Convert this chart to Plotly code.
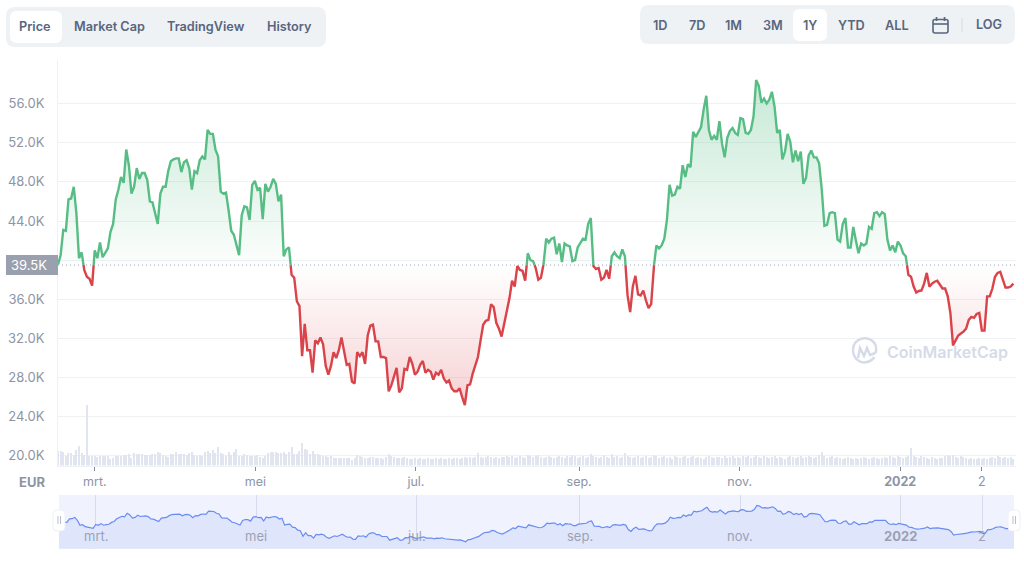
import plotly.graph_objects as go
import pandas as pd

prices_k = [
39.55,40.5,43.1,43.0,46.2,46.3,47.5,44.8,40.2,40.8,39.0,38.3,38.1,37.4,
41.0,40.2,41.8,40.3,40.8,41.2,42.9,43.7,46.2,47.2,48.5,47.9,51.3,49.7,46.8,47.5,49.4,48.3,48.9,48.9,
48.2,46.0,45.9,44.8,43.7,46.8,47.5,47.5,49.1,50.1,50.3,50.4,50.4,49.0,50.0,50.2,49.4,47.2,49.1,48.9,
50.2,50.6,50.3,53.3,52.9,52.9,51.3,50.6,47.0,46.8,46.9,45.1,43.0,42.6,41.4,40.5,44.6,45.5,45.4,44.1,
47.7,48.1,47.2,47.4,44.2,47.8,47.0,47.5,48.3,47.8,46.0,46.7,40.4,41.1,41.3,38.5,38.2,35.8,35.3,30.2,
33.5,30.8,30.8,28.5,31.8,31.5,32.1,31.4,29.2,28.3,29.2,30.6,30.0,30.8,
32.1,30.5,29.3,29.4,27.6,27.4,30.6,30.2,30.6,29.4,32.3,33.3,33.4,31.7,31.7,30.1,30.1,30.0,26.6,27.2,
28.2,29.0,26.5,26.9,28.9,28.8,30.1,29.4,28.3,28.6,29.3,29.7,28.5,28.8,28.6,27.8,28.5,28.3,28.8,27.9,
27.5,27.7,26.9,26.6,26.6,26.9,26.0,25.2,27.2,27.3,28.4,29.2,30.1,31.8,33.4,33.8,33.9,35.5,35.2,33.6,
33.0,32.2,33.5,34.6,36.1,37.9,37.3,39.4,39.0,38.9,37.9,40.7,40.0,39.9,39.2,38.0,38.2,39.6,42.2,41.8,
42.2,42.3,40.6,41.7,39.8,41.7,41.5,41.4,39.9,40.0,41.3,41.7,42.2,42.1,43.7,44.3,39.4,39.1,39.2,38.0,
38.2,39.0,38.1,40.4,40.8,40.4,40.2,41.1,40.4,36.4,34.7,37.3,38.4,36.5,36.4,36.9,35.9,35.1,35.5,39.3,
41.5,41.2,41.5,42.2,44.1,47.7,46.6,46.7,47.5,47.3,49.7,48.5,49.8,49.5,53.1,52.6,53.1,53.6,55.4,56.8,
53.3,52.3,52.7,52.3,54.2,51.9,50.5,52.5,53.2,53.5,53.0,52.8,54.5,54.4,53.0,52.9,53.3,54.7,58.4,57.8,
56.1,56.5,56.0,56.4,57.2,55.7,53.0,53.3,50.3,51.1,52.9,52.1,50.0,51.2,50.1,51.1,47.8,48.4,50.7,51.2,
50.5,50.5,49.9,47.2,43.5,43.6,44.8,44.9,44.8,42.1,41.9,43.7,44.3,41.3,41.3,43.4,42.0,40.7,41.7,41.5,
41.7,43.4,43.2,44.8,44.9,44.5,44.9,44.7,42.1,41.0,41.5,40.8,41.9,41.5,40.7,40.4,38.5,38.3,37.3,36.7,
36.85,36.9,37.6,38.7,37.3,37.6,37.8,37.9,37.5,37.1,37.1,36.3,34.6,31.3,31.8,32.3,32.5,32.7,33.0,33.9,
34.2,34.1,34.5,34.6,32.8,32.8,36.3,36.3,37.1,38.3,38.7,38.8,38.0,37.2,37.2,37.3,37.6,
]

volumes_bn = [
70,70,65,45,60,60,50,75,95,60,
50,300,45,45,45,40,45,45,45,45,
30,35,45,45,45,50,50,55,35,60,
55,55,55,50,50,50,55,55,65,60,
50,45,40,55,55,65,55,55,55,50,
60,65,50,45,50,45,65,70,60,75,
60,90,60,55,45,65,50,65,80,45,
45,55,50,45,45,45,50,40,35,45,
60,65,65,65,60,60,65,55,65,90,
55,55,70,110,80,75,55,70,55,55,
50,45,45,40,45,35,35,35,35,35,
35,35,25,35,50,45,40,35,35,40,
40,35,35,35,30,40,55,45,40,35,
35,35,40,35,30,30,35,30,35,30,
30,35,30,30,35,30,35,30,30,35,
30,35,35,30,35,40,35,40,35,40,
60,40,35,40,45,40,35,40,35,40,
40,45,40,45,35,40,45,40,35,50,
45,40,45,50,40,35,40,45,40,35,
40,45,40,35,45,40,50,45,35,40,
45,35,40,55,45,40,35,40,50,40,
35,55,40,45,35,40,60,45,40,35,
40,45,35,40,45,35,40,50,45,35,
40,45,35,40,30,45,40,35,40,45,
35,40,45,35,40,35,30,40,45,40,
35,40,40,35,45,35,40,45,35,40,
35,45,40,45,35,40,50,40,35,45,
40,35,40,45,35,40,35,30,40,45,
40,35,40,45,35,40,45,40,35,40,
50,65,45,35,40,45,35,40,35,30,
35,40,35,30,35,30,35,40,35,30,
35,40,35,30,35,40,35,45,40,35,
45,40,35,40,45,85,45,40,35,45,
40,35,30,40,35,30,35,35,45,50,
45,50,40,35,45,40,35,30,35,30,
30,35,30,35,30,35,40,35,45,40,
35,40,35,40,30,
]

y_ticks = [20, 24, 28, 32, 36, 40, 44, 48, 52, 56]
y_labels = ["20.0K", "24.0K", "28.0K", "32.0K", "36.0K", "", "44.0K", "48.0K", "52.0K", "56.0K"]
x_ticks = ["2021-03-01", "2021-05-01", "2021-07-01", "2021-09-01", "2021-11-01", "2022-01-01", "2022-02-01"]
x_labels = ["mrt.", "mei", "jul.", "sep.", "nov.", "<b>2022</b>", "2"]
nav_labels = ["mrt.", "mei", "jul.", "sep.", "nov.", "<b>2022</b>", "2"]
base_k = 39.5
left_tabs = ["Price", "Market Cap", "TradingView", "History"]
range_tabs = ["1D", "7D", "1M", "3M", "1Y", "YTD", "ALL"]

W, H = 1024, 561
GREEN, RED = "#57bd84", "#d9434a"
TICK = "#8d94a6"
TAB = "#58667e"
GRID = "#eff2f5"

dates = pd.date_range("2021-02-15", "2022-02-13", periods=len(prices_k))
vol_dates = pd.date_range("2021-02-15", "2022-02-13", periods=len(volumes_bn))
ms = [d.value / 1e6 for d in dates]


def split_at_base(xs, ys, base):
    up_x, up_y, dn_x, dn_y, top, bot, all_x = [], [], [], [], [], [], []
    for i, (x, y) in enumerate(zip(xs, ys)):
        if i:
            x0, y0 = xs[i - 1], ys[i - 1]
            if (y0 - base) * (y - base) < 0:
                xc = x0 + (base - y0) / (y - y0) * (x - x0)
                for lst_x, lst_y in ((up_x, up_y), (dn_x, dn_y)):
                    lst_x.append(xc)
                    lst_y.append(base)
                if y < base:
                    up_x.append(None); up_y.append(None)
                else:
                    dn_x.append(None); dn_y.append(None)
                all_x.append(xc); top.append(base); bot.append(base)
        if y >= base:
            up_x.append(x); up_y.append(y)
        else:
            dn_x.append(x); dn_y.append(y)
        all_x.append(x); top.append(max(y, base)); bot.append(min(y, base))
    conv = lambda a: [None if v is None else pd.Timestamp(v, unit="ms") for v in a]
    return conv(up_x), up_y, conv(dn_x), dn_y, conv(all_x), top, bot


up_x, up_y, dn_x, dn_y, all_x, top, bot = split_at_base(ms, prices_k, base_k)

fig = go.Figure()
fig.add_trace(go.Scatter(x=all_x, y=[base_k] * len(all_x), mode="lines", line=dict(width=0), hoverinfo="skip", showlegend=False))
fig.add_trace(go.Scatter(x=all_x, y=top, mode="lines", line=dict(width=0), fill="tonexty", hoverinfo="skip", showlegend=False,
    fillgradient=dict(type="vertical", start=base_k, stop=58.4,
        colorscale=[[0, "rgba(87,189,132,0.02)"], [1, "rgba(87,189,132,0.34)"]])))
fig.add_trace(go.Scatter(x=all_x, y=[base_k] * len(all_x), mode="lines", line=dict(width=0), hoverinfo="skip", showlegend=False))
fig.add_trace(go.Scatter(x=all_x, y=bot, mode="lines", line=dict(width=0), fill="tonexty", hoverinfo="skip", showlegend=False,
    fillgradient=dict(type="vertical", start=base_k, stop=25.2,
        colorscale=[[0, "rgba(217,67,74,0.0)"], [1, "rgba(217,67,74,0.24)"]])))
fig.add_trace(go.Scatter(x=up_x, y=up_y, mode="lines", line=dict(color=GREEN, width=2.4), showlegend=False))
fig.add_trace(go.Scatter(x=dn_x, y=dn_y, mode="lines", line=dict(color=RED, width=2.4), showlegend=False))
fig.add_trace(go.Bar(x=vol_dates, y=volumes_bn, yaxis="y3", marker=dict(color="#e1e5f0", line=dict(width=0)),
    width=0.4 * 86400000, showlegend=False))
fig.add_trace(go.Scatter(x=dates, y=prices_k, xaxis="x2", yaxis="y2", mode="lines", line=dict(color="#6a8cf2", width=1.2),
    fill="tozeroy", fillcolor="#dfe5fb", showlegend=False))


def px(x):
    return x / W


def py(y):
    return 1 - y / H


def rrect(x0, y0, x1, y1, r, fill=None, line=None, layer="above", lw=1):
    p = (f"M{px(x0+r)},{py(y0)} L{px(x1-r)},{py(y0)} Q{px(x1)},{py(y0)} {px(x1)},{py(y0+r)} "
         f"L{px(x1)},{py(y1-r)} Q{px(x1)},{py(y1)} {px(x1-r)},{py(y1)} L{px(x0+r)},{py(y1)} "
         f"Q{px(x0)},{py(y1)} {px(x0)},{py(y1-r)} L{px(x0)},{py(y0+r)} Q{px(x0)},{py(y0)} {px(x0+r)},{py(y0)} Z")
    return dict(type="path", path=p, xref="paper", yref="paper", fillcolor=fill or "rgba(0,0,0,0)",
                line=dict(width=lw if line else 0, color=line or "rgba(0,0,0,0)"), layer=layer)


def seg(x0, y0, x1, y1, color, w=1, dash=None, layer="above"):
    return dict(type="line", xref="paper", yref="paper", x0=px(x0), y0=py(y0), x1=px(x1), y1=py(y1),
                line=dict(color=color, width=w, dash=dash or "solid"), layer=layer)


shapes = [
    rrect(6, 7, 326, 47, 9, fill="#eff2f5"),
    rrect(10, 11, 62, 43, 7, fill="#ffffff"),
    rrect(640, 5, 1015, 44, 9, fill="#eff2f5"),
    rrect(793, 9, 827, 41, 7, fill="#ffffff"),
    seg(962, 18, 962, 32, "#d5dae5"),
    rrect(933, 19.5, 948, 33, 2, line=TAB, lw=1.6),
    seg(933, 24, 948, 24, TAB, 1.6),
    seg(936.5, 17, 936.5, 21, TAB, 1.6),
    seg(944.5, 17, 944.5, 21, TAB, 1.6),
    dict(type="rect", xref="paper", yref="paper", x0=px(6), x1=px(58), y0=py(255), y1=py(275),
         fillcolor="#9aa0ae", line=dict(width=0)),
    dict(type="line", xref="paper", yref="y", x0=px(58), x1=px(1016), y0=base_k, y1=base_k,
         line=dict(color="#9aa3b8", width=1, dash="1px,3px")),
    dict(type="rect", xref="paper", yref="paper", x0=px(59), x1=px(1014), y0=py(548.7), y1=py(495),
         fillcolor="#f0f3fd", line=dict(width=0), layer="below"),
    # navigator handles
    rrect(53, 510, 65, 531, 4, fill="#ffffff", line="#eef0f5"),
    rrect(1008, 510, 1020, 531, 4, fill="#ffffff", line="#eef0f5"),
    seg(58, 516, 58, 524, "#b8bdc9"), seg(60.5, 516, 60.5, 524, "#b8bdc9"),
    seg(1013, 516, 1013, 524, "#b8bdc9"), seg(1015.5, 516, 1015.5, 524, "#b8bdc9"),
    # watermark logo
    dict(type="path", xref="paper", yref="paper", line=dict(color="#d5dbe8", width=2.4),
         path=(f"M{px(874.5)},{py(357)} C{px(871)},{py(362)} {px(864)},{py(364)} {px(859)},{py(361)} "
               f"C{px(852)},{py(357)} {px(851)},{py(346)} {px(857)},{py(341)} "
               f"C{px(863)},{py(336)} {px(872)},{py(338)} {px(875.5)},{py(345)} "
               f"C{px(877)},{py(350)} {px(876)},{py(352)} {px(875.5)},{py(353)}")),
    dict(type="path", xref="paper", yref="paper", line=dict(color="#d5dbe8", width=2.4),
         path=(f"M{px(858)},{py(358)} L{px(860)},{py(348)} L{px(864)},{py(356)} L{px(867)},{py(348)} "
               f"L{px(870)},{py(355)} L{px(875.5)},{py(353)}")),
]

annotations = []


def label(x, y, text, size=13, color=TAB, weight=600, xanchor="center", xref="paper", xval=None):
    annotations.append(dict(x=xval if xval is not None else px(x), y=py(y), xref=xref, yref="paper", text=text, showarrow=False,
        xanchor=xanchor, yanchor="middle", font=dict(family="Inter", size=size, color=color, weight=weight)))


for x, t in zip([35, 109, 205.5, 289], left_tabs):
    label(x, 27, t, size=12.7)
for x, t in zip([660.5, 696.5, 733.5, 772.5, 809.5, 851, 897], range_tabs):
    label(x, 25.5, t, size=12.7)
label(989, 25, "LOG", size=12.7)
label(48.5, 265, "39.5K", color="#ffffff", weight=400, xanchor="right")
label(32, 481.5, "EUR", color=TICK, weight=700)
label(885, 352, "CoinMarketCap", size=16, color="#d5dbe8", weight=600, xanchor="left")
for t, txt in zip(x_ticks, nav_labels):
    label(0, 536, txt, color="rgba(130,138,155,0.75)", weight=400, xref="x2", xval=t)

fig.update_layout(
    width=W, height=H, margin=dict(l=0, r=0, t=0, b=0), paper_bgcolor="white", plot_bgcolor="white",
    showlegend=False, bargap=0, shapes=shapes, annotations=annotations,
    font=dict(family="Inter", color=TICK, size=13),
    xaxis=dict(domain=[px(58), px(1016)], range=["2021-02-15", "2022-02-14"], tickvals=x_ticks, ticktext=x_labels,
        ticks="outside", ticklen=4, tickcolor="#808a9d", tickwidth=1, showgrid=False, showline=True, linecolor=GRID,
        zeroline=False, tickfont=dict(family="Inter", size=12.5, color=TICK), anchor="y"),
    yaxis=dict(domain=[py(465.5), py(60)], range=[19.02, 60.45], tickvals=y_ticks, ticktext=y_labels, showgrid=True,
        gridcolor=GRID, gridwidth=1, showline=True, linecolor=GRID, zeroline=False, ticks="", ticklabelstandoff=10,
        tickfont=dict(family="Inter", size=13, color=TICK), anchor="x"),
    yaxis3=dict(domain=[py(465.5), py(60)], overlaying="y", range=[0, 2025], visible=False, anchor="x"),
    xaxis2=dict(domain=[px(59), px(1014)], range=["2021-02-15", "2022-02-13"], tickvals=x_ticks, showticklabels=False,
        showgrid=True, gridcolor="rgba(170,178,205,0.35)", zeroline=False, anchor="y2", layer="above traces"),
    yaxis2=dict(domain=[py(548.7), py(495)], range=[18.8, 68], visible=False, anchor="x2"),
)

fig.write_html("out.html", config=dict(displayModeBar=False),
               post_script="document.body.style.margin='0';document.body.style.overflow='hidden';")
